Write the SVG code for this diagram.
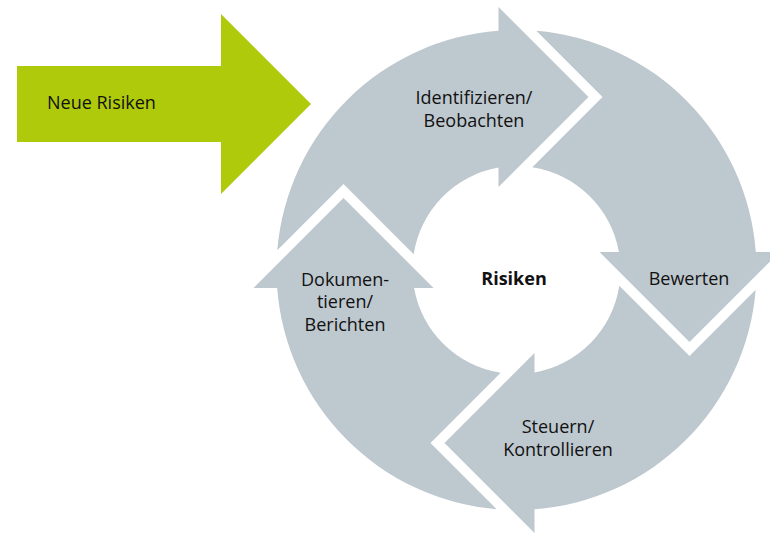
<svg xmlns="http://www.w3.org/2000/svg" width="770" height="534" viewBox="0 0 770 534">
<style>
.seg{fill:#bec8cf}
.lbl{font-family:"Open Sans","Noto Sans","DejaVu Sans",sans-serif;font-size:18px;fill:#111111;text-anchor:middle}
.b{font-weight:bold}
</style>
<defs>
<path id="arc" d="M -239.2 -19.8 A 240 240 0 0 1 -18 -239.3 L -18 -263 L 72 -173 L -18 -83 L -18 -102.4 A 104 104 0 0 0 -102.8 -15.8 L -173 -86 Z"/>
</defs>
<rect width="770" height="534" fill="#ffffff"/>
<g id="neue-risiken">
<path d="M 17 66 L 221 66 L 221 14 L 311 104 L 221 194 L 221 142 L 17 142 Z" fill="#afca0b"/>
<text class="lbl" x="47" y="109" style="text-anchor:start">Neue Risiken</text>
</g>
<g id="connectors" transform="translate(516.5 270)">
<use href="#arc" class="seg"/>
<use href="#arc" class="seg" transform="rotate(90)"/>
<use href="#arc" class="seg" transform="rotate(180)"/>
<use href="#arc" class="seg" transform="rotate(270)"/>
</g>
<g id="identifizieren">
<text class="lbl" x="474" y="104">Identifizieren/</text>
<text class="lbl" x="474" y="127">Beobachten</text>
</g>
<g id="bewerten">
<text class="lbl" x="689" y="285">Bewerten</text>
</g>
<g id="steuern">
<text class="lbl" x="558" y="433">Steuern/</text>
<text class="lbl" x="558" y="456">Kontrollieren</text>
</g>
<g id="dokumentieren">
<text class="lbl" x="345" y="286">Dokumen-</text>
<text class="lbl" x="345" y="308">tieren/</text>
<text class="lbl" x="345" y="331">Berichten</text>
</g>
<g id="risiken">
<text class="lbl b" x="514" y="285">Risiken</text>
</g>
</svg>
